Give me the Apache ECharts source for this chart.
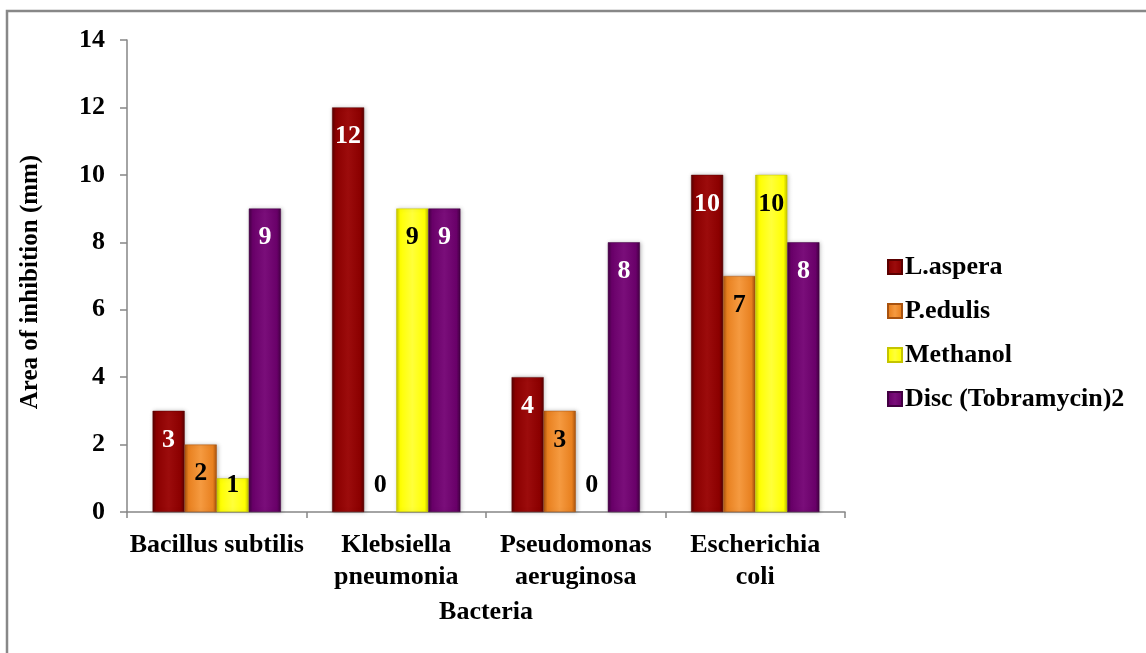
<!DOCTYPE html>
<html>
<head>
<meta charset="utf-8">
<script src="https://cdn.jsdelivr.net/npm/echarts@6/dist/echarts.min.js"></script>
<style>
  html, body { margin: 0; padding: 0; background: #fff; }
  #chart { width: 1146px; height: 653px; }
</style>
</head>
<body>
<div id="chart"></div>
<script>
// Zone of inhibition per bacterium for each extract / control
const categories = ['Bacillus subtilis', 'Klebsiella\npneumonia', 'Pseudomonas\naeruginosa', 'Escherichia\ncoli'];
const seriesNames = ['L.aspera', 'P.edulis', 'Methanol', 'Disc (Tobramycin)2'];
const lAspera = [3, 12, 4, 10];
const pEdulis = [2, 0, 3, 7];
const methanol = [1, 9, 0, 10];
const discTobramycin = [9, 9, 8, 8];
const yTicks = [0, 2, 4, 6, 8, 10, 12, 14];

const seriesValues = [lAspera, pEdulis, methanol, discTobramycin];

// base, edge (darker) and highlight tones for the bevelled bars
const palette = [
  { edge: '#5a0000', base: '#8b0000', light: '#9c0c0c', label: '#ffffff' },
  { edge: '#a8520e', base: '#e8801f', light: '#f59a40', label: '#000000' },
  { edge: '#c4c400', base: '#ffff00', light: '#ffff3a', label: '#000000' },
  { edge: '#420042', base: '#690069', light: '#7a0e7a', label: '#ffffff' }
];

function barFill(p) {
  return new echarts.graphic.LinearGradient(0, 0, 1, 0, [
    { offset: 0, color: p.edge },
    { offset: 0.12, color: p.base },
    { offset: 0.5, color: p.light },
    { offset: 0.88, color: p.base },
    { offset: 1, color: p.edge }
  ]);
}

const FONT = '"Liberation Serif", "Times New Roman", serif';
const FS = 26;

const series = seriesNames.map((name, i) => ({
  name: name,
  type: 'bar',
  barGap: '0%',
  barCategoryGap: '28.5%',
  itemStyle: {
    color: barFill(palette[i]),
    borderColor: palette[i].edge,
    borderWidth: 0.5,
    shadowColor: 'rgba(0,0,0,0.25)',
    shadowBlur: 4,
    shadowOffsetX: 1
  },
  data: seriesValues[i].map(v => {
    const small = v <= 1;
    const item = {
      value: v,
      label: {
        show: true,
        position: small ? 'insideBottom' : 'insideTop',
        distance: small ? 14 : 16,
        color: v === 0 ? '#000000' : palette[i].label,
        fontFamily: FONT,
        fontWeight: 'bold',
        fontSize: FS
      }
    };
    if (v === 0) {
      item.itemStyle = { color: 'transparent', borderWidth: 0, shadowBlur: 0, shadowOffsetX: 0 };
    }
    return item;
  })
}));

const chart = echarts.init(document.getElementById('chart'), null, { renderer: 'canvas' });
chart.setOption({
  backgroundColor: '#ffffff',
  animation: false,
  graphic: [{
    type: 'rect',
    shape: { x: 7, y: 11, width: 1200, height: 700 },
    style: { fill: 'none', stroke: '#888888', lineWidth: 2.5 },
    silent: true,
    z: -10
  }],
  grid: { left: 127, right: 301, top: 40, bottom: 141, containLabel: false },
  legend: {
    orient: 'vertical',
    left: 887,
    top: 254,
    padding: 0,
    itemWidth: 14,
    itemHeight: 14,
    itemGap: 18,
    icon: 'rect',
    data: seriesNames,
    textStyle: {
      fontFamily: FONT,
      fontWeight: 'bold',
      fontSize: FS,
      color: '#000',
      lineHeight: 26,
      padding: [0, 0, 0, -2]
    }
  },
  xAxis: {
    type: 'category',
    data: categories,
    name: 'Bacteria',
    nameLocation: 'middle',
    nameGap: 87,
    nameTextStyle: { fontFamily: FONT, fontWeight: 'bold', fontSize: FS, color: '#000' },
    axisLine: { lineStyle: { color: '#868686', width: 1.5 } },
    axisTick: { show: true, length: 6, alignWithLabel: false, lineStyle: { color: '#868686', width: 1.5 } },
    axisLabel: {
      interval: 0,
      margin: 17,
      fontFamily: FONT,
      fontWeight: 'bold',
      fontSize: FS,
      color: '#000',
      lineHeight: 32
    }
  },
  yAxis: {
    type: 'value',
    min: yTicks[0],
    max: yTicks[yTicks.length - 1],
    interval: 2,
    name: 'Area of inhibition (mm)',
    nameLocation: 'middle',
    nameRotate: 90,
    nameGap: 84,
    nameTextStyle: {
      fontFamily: FONT, fontWeight: 'bold', fontSize: 25, color: '#000',
      padding: [0, 12, 0, 0]
    },
    splitLine: { show: false },
    axisLine: { show: true, lineStyle: { color: '#868686', width: 1.5 } },
    axisTick: { show: true, length: 7, lineStyle: { color: '#868686', width: 1.5 } },
    axisLabel: {
      margin: 22,
      fontFamily: FONT,
      fontWeight: 'bold',
      fontSize: FS,
      color: '#000'
    }
  },
  series: series
});
</script>
</body>
</html>
